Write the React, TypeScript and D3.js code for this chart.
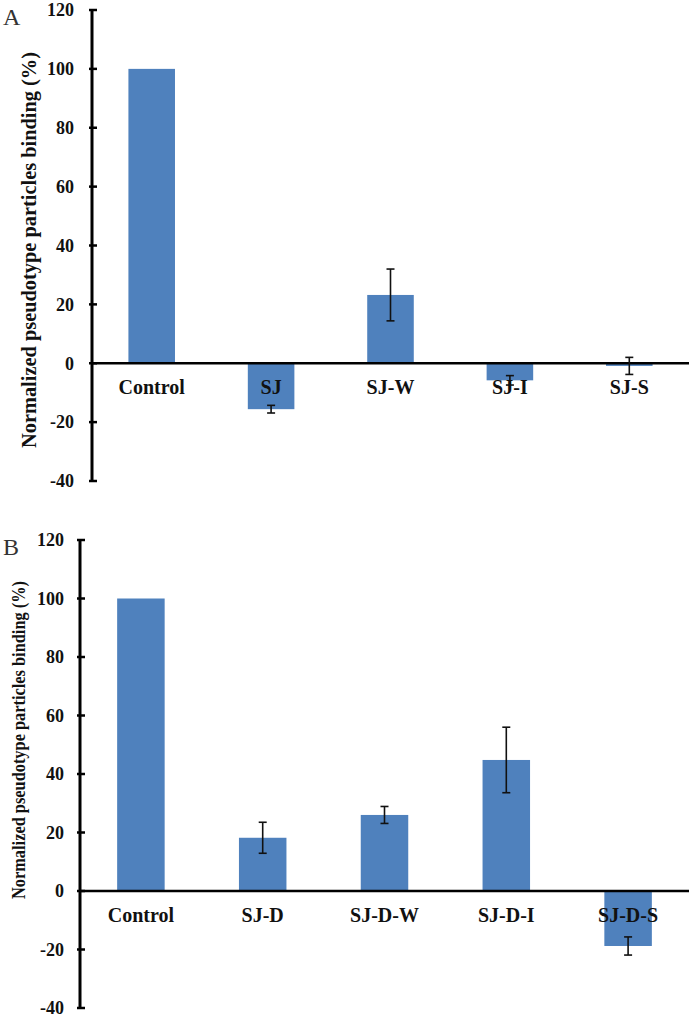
import React from "react";
import * as d3 from "d3";

const categoriesA = ["Control", "SJ", "SJ-W", "SJ-I", "SJ-S"];
const valuesA = [100, -15.6, 23.2, -5.8, -0.9];
const errorsA = [0, 1.3, 8.8, 1.6, 2.9];

const categoriesB = ["Control", "SJ-D", "SJ-D-W", "SJ-D-I", "SJ-D-S"];
const valuesB = [100, 18.2, 26, 44.8, -18.8];
const errorsB = [0, 5.3, 2.9, 11.2, 3.1];

const yTicks = [120, 100, 80, 60, 40, 20, 0, -20, -40];
const yLabel = "Normalized pseudotype particles binding (%)";

const BAR = "#4f81bd";
const FONT = "'Liberation Serif', 'Times New Roman', serif";

type PanelProps = {
  letter: string;
  cats: string[];
  vals: number[];
  errs: number[];
  axisX: number;
  yTop: number;
  yBottom: number;
  letterY: number;
  labelX: number;
  labelCY: number;
  labelLen: number;
  labelSize: number;
  tickGap: number;
};

function Panel(p: PanelProps) {
  const { letter, cats, vals, errs, axisX, yTop, yBottom } = p;
  const y = d3.scaleLinear().domain([-40, 120]).range([yBottom, yTop]);
  const x = d3.scaleBand<string>().domain(cats).range([axisX, 689]).paddingInner(0.61).paddingOuter(0.305);
  const y0 = y(0);
  const bw = x.bandwidth();
  return (
    <g>
      <text x={3} y={p.letterY} fontFamily={FONT} fontSize={24} fill="#333">{letter}</text>
      <text
        transform={`translate(${p.labelX},${p.labelCY}) rotate(-90)`}
        textAnchor="middle"
        fontFamily={FONT}
        fontWeight="bold"
        fontSize={p.labelSize}
        textLength={p.labelLen}
        lengthAdjust="spacingAndGlyphs"
        fill="#111"
      >
        {yLabel}
      </text>
      {cats.map((c, i) => {
        const v = vals[i];
        const top = Math.min(y(v), y0);
        const h = Math.abs(y(v) - y0);
        return <rect key={c} x={x(c)} y={top} width={bw} height={h} fill={BAR} />;
      })}
      {yTicks.map((t) => (
        <g key={t}>
          <line x1={axisX - 3} x2={axisX + 5} y1={y(t)} y2={y(t)} stroke="#000" strokeWidth={2.5} />
          <text x={axisX - p.tickGap} y={y(t)} dy="0.35em" textAnchor="end" fontFamily={FONT} fontWeight="bold" fontSize={18} fill="#111">
            {t}
          </text>
        </g>
      ))}
      <line x1={axisX} x2={axisX} y1={y(120)} y2={y(-40)} stroke="#000" strokeWidth={3} />
      <line x1={axisX} x2={689} y1={y0} y2={y0} stroke="#000" strokeWidth={2.5} />
      {cats.map((c, i) => {
        if (!errs[i]) return null;
        const cx = (x(c) as number) + bw / 2;
        const hi = y(vals[i] + errs[i]);
        const lo = y(vals[i] - errs[i]);
        return (
          <g key={c + "e"} stroke="#111" strokeWidth={1.6}>
            <line x1={cx} x2={cx} y1={hi} y2={lo} />
            <line x1={cx - 4} x2={cx + 4} y1={hi} y2={hi} />
            <line x1={cx - 4} x2={cx + 4} y1={lo} y2={lo} />
          </g>
        );
      })}
      {cats.map((c) => (
        <text
          key={c + "l"}
          x={(x(c) as number) + bw / 2}
          y={y0 + 31}
          textAnchor="middle"
          fontFamily={FONT}
          fontWeight="bold"
          fontSize={20}
          fill="#111"
        >
          {c}
        </text>
      ))}
    </g>
  );
}

export default function App() {
  return (
    <svg width={689} height={1016} style={{ position: "absolute", left: 0, top: 0, background: "#fff" }}>
      <rect width={689} height={1016} fill="#fff" />
      <Panel letter="A" cats={categoriesA} vals={valuesA} errs={errorsA} axisX={92} yTop={10} yBottom={481}
        letterY={25} labelX={36} labelCY={250} labelLen={396} labelSize={20} tickGap={18} />
      <Panel letter="B" cats={categoriesB} vals={valuesB} errs={errorsB} axisX={80} yTop={540} yBottom={1008}
        letterY={555} labelX={25} labelCY={740} labelLen={318} labelSize={18} tickGap={16} />
    </svg>
  );
}
